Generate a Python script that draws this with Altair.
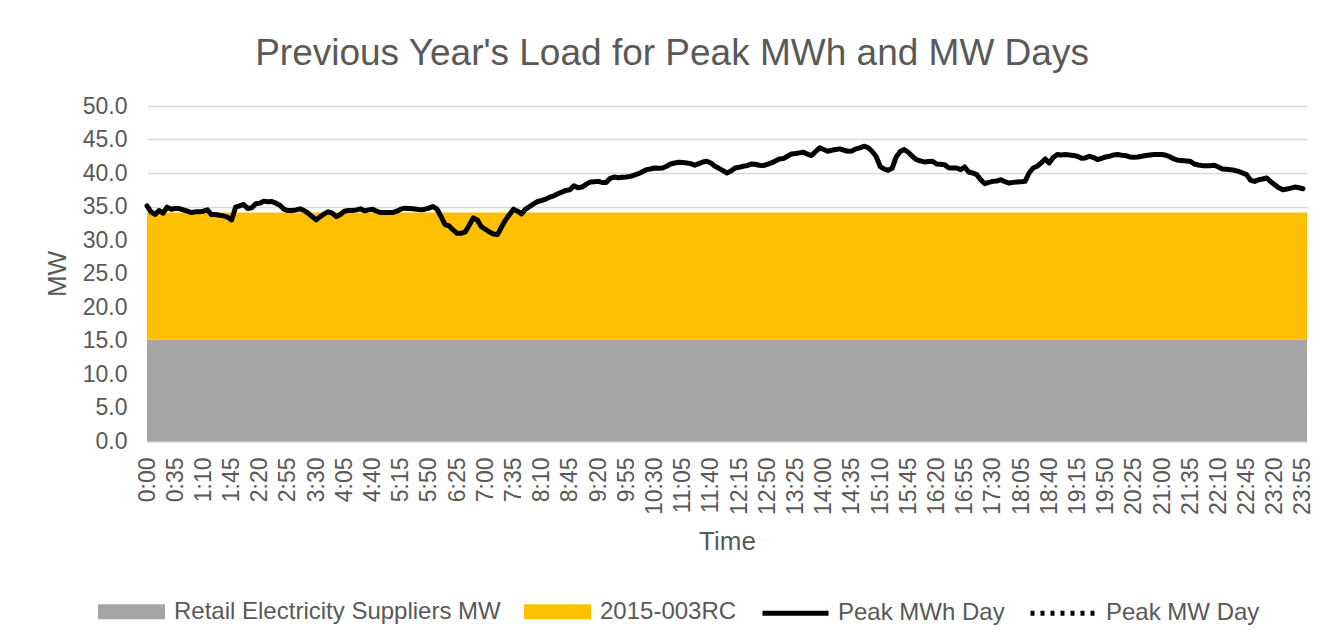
import json
import altair as alt
import pandas as pd

TITLE = "Previous Year's Load for Peak MWh and MW Days"
SERIES = ["Retail Electricity Suppliers MW", "2015-003RC", "Peak MWh Day", "Peak MW Day"]
COLORS = ["#A5A5A5", "#FFC000", "#000000", "#000000"]

TICK_LABELS = ["0:00", "0:35", "1:10", "1:45", "2:20", "2:55", "3:30", "4:05", "4:40",
               "5:15", "5:50", "6:25", "7:00", "7:35", "8:10", "8:45", "9:20", "9:55",
               "10:30", "11:05", "11:40", "12:15", "12:50", "13:25", "14:00", "14:35",
               "15:10", "15:45", "16:20", "16:55", "17:30", "18:05", "18:40", "19:15",
               "19:50", "20:25", "21:00", "21:35", "22:10", "22:45", "23:20", "23:55"]
TICK_STEP = 7  # labels every 7th five-minute interval
Y_TICKS = [0, 5, 10, 15, 20, 25, 30, 35, 40, 45, 50]

RETAIL_MW = 15.1   # Retail Electricity Suppliers MW (constant over the day)
RC_MW = 19.0       # 2015-003RC (stacked on top)

PEAK_MWH = [
    35.1, 34.2, 33.8, 34.4, 34.0, 34.9, 34.6, 34.7, 34.7, 34.5,
    34.3, 34.1, 34.2, 34.2, 34.3, 34.5, 33.8, 33.8, 33.7, 33.6,
    33.4, 33.0, 34.9, 35.1, 35.3, 34.7, 34.8, 35.4, 35.5, 35.8,
    35.7, 35.75, 35.5, 35.2, 34.6, 34.4, 34.4, 34.5, 34.65, 34.4,
    34.0, 33.5, 33.0, 33.5, 33.9, 34.2, 34.0, 33.5, 33.8, 34.3,
    34.4, 34.4, 34.5, 34.65, 34.35, 34.5, 34.6, 34.3, 34.1, 34.1,
    34.1, 34.1, 34.3, 34.6, 34.75, 34.7, 34.65, 34.6, 34.5, 34.6,
    34.75, 35.0, 34.6, 33.5, 32.3, 32.1, 31.5, 31.0, 31.0, 31.2,
    32.2, 33.3, 33.0, 32.0, 31.6, 31.2, 30.9, 30.8, 31.9, 33.0,
    33.8, 34.6, 34.3, 33.9, 34.6, 35.0, 35.4, 35.75, 35.9, 36.1,
    36.4, 36.6, 36.9, 37.15, 37.4, 37.5, 38.1, 37.8, 37.9, 38.3,
    38.65, 38.7, 38.75, 38.6, 38.6, 39.2, 39.4, 39.3, 39.35, 39.4,
    39.5, 39.7, 39.9, 40.2, 40.5, 40.6, 40.75, 40.7, 40.75, 41.0,
    41.35, 41.5, 41.6, 41.55, 41.5, 41.4, 41.15, 41.4, 41.65, 41.75,
    41.5, 41.0, 40.7, 40.35, 40.0, 40.3, 40.75, 40.85, 41.0, 41.1,
    41.35, 41.3, 41.15, 41.1, 41.3, 41.5, 41.8, 42.1, 42.15, 42.5,
    42.85, 42.9, 43.0, 43.1, 42.8, 42.6, 43.2, 43.75, 43.5, 43.25,
    43.4, 43.5, 43.6, 43.4, 43.25, 43.3, 43.6, 43.75, 44.0, 43.8,
    43.25, 42.5, 41.0, 40.6, 40.4, 40.7, 42.4, 43.2, 43.5, 43.1,
    42.5, 42.0, 41.8, 41.65, 41.7, 41.75, 41.35, 41.3, 41.25, 40.8,
    40.75, 40.75, 40.5, 40.9, 40.15, 40.0, 39.75, 39.0, 38.4, 38.6,
    38.75, 38.8, 39.0, 38.7, 38.5, 38.6, 38.65, 38.7, 38.75, 40.0,
    40.75, 41.0, 41.5, 42.1, 41.5, 42.3, 42.75, 42.7, 42.75, 42.7,
    42.6, 42.5, 42.2, 42.25, 42.5, 42.3, 42.0, 42.2, 42.4, 42.5,
    42.7, 42.75, 42.65, 42.6, 42.4, 42.35, 42.4, 42.5, 42.6, 42.7,
    42.75, 42.75, 42.75, 42.65, 42.4, 42.1, 41.9, 41.85, 41.8, 41.75,
    41.35, 41.2, 41.1, 41.1, 41.1, 41.15, 40.9, 40.6, 40.55, 40.5,
    40.4, 40.25, 40.0, 39.75, 38.9, 38.75, 39.0, 39.1, 39.25, 38.7,
    38.25, 37.8, 37.5, 37.6, 37.75, 37.9, 37.8, 37.65,
]

N = len(PEAK_MWH)  # 288 five-minute intervals
FONT = "Liberation Sans"
TEXT = "#595959"

line_df = pd.DataFrame({"idx": list(range(N)), "mw": PEAK_MWH})
area_df = pd.DataFrame({"idx": list(range(N + 1)),
                        "retail": [RETAIL_MW] * (N + 1),
                        "total": [RETAIL_MW + RC_MW] * (N + 1)})

label_expr = json.dumps(TICK_LABELS) + "[round(datum.value / %d)]" % TICK_STEP

x_scale = alt.Scale(domain=[0, N], nice=False, zero=False)
y_scale = alt.Scale(domain=[0, 50], nice=False)

x_axis = alt.Axis(values=[i * TICK_STEP for i in range(len(TICK_LABELS))],
                  labelExpr=label_expr, labelAngle=270, labelFontSize=23,
                  labelColor=TEXT, labelFont=FONT, labelPadding=16,
                  ticks=False, tickSize=0, grid=False,
                  domainColor="#BFBFBF", domainWidth=1.5,
                  titleFontSize=26, titleFont=FONT, titleColor=TEXT,
                  titleFontWeight="normal", titlePadding=14, labelOverlap=False)
y_axis = alt.Axis(values=Y_TICKS, format=".1f", labelFontSize=23, labelColor=TEXT,
                  labelFont=FONT, labelPadding=20, ticks=False, domain=False,
                  grid=True, gridColor="#D9D9D9", gridWidth=1.5,
                  titleFontSize=26, titleFont=FONT, titleColor=TEXT,
                  titleFontWeight="normal", titlePadding=12)

X = alt.X("idx:Q", scale=x_scale, axis=x_axis, title="Time")
Y_T = "MW"

gray = alt.Chart(area_df).mark_area(color="#A5A5A5").encode(
    x=X, y=alt.Y("retail:Q", scale=y_scale, axis=y_axis, title=Y_T))
yellow = alt.Chart(area_df).mark_area(color="#FFC000").encode(
    x=X, y=alt.Y("total:Q", scale=y_scale, axis=y_axis, title=Y_T), y2="retail:Q")
line = alt.Chart(line_df).mark_line(color="#000000", strokeWidth=5,
                                    strokeJoin="round", strokeCap="round").encode(
    x=X, y=alt.Y("mw:Q", scale=y_scale, axis=y_axis, title=Y_T))

SHAPES = ["M-0.94,-0.15H0.94V0.15H-0.94Z", "M-0.94,-0.15H0.94V0.15H-0.94Z",
          "M-1,0H1", "M-1,0H1"]
DASHES = [[10, 0], [10, 0], [10, 0], [4, 6]]
leg = alt.Legend(orient="none", legendX=-51, legendY=470, direction="horizontal",
                 columns=4, title=None, labelFontSize=24, labelColor=TEXT,
                 labelFont=FONT, symbolSize=4356, symbolStrokeWidth=5,
                 symbolOpacity=1, labelOffset=7, columnPadding=15, labelLimit=500)

legend_layer = alt.Chart(pd.DataFrame({"series": SERIES})).transform_filter(
    "false").mark_point(filled=True, strokeWidth=5, opacity=1).encode(
    fill=alt.Fill("series:N", scale=alt.Scale(domain=SERIES, range=COLORS), legend=leg),
    stroke=alt.Stroke("series:N", scale=alt.Scale(domain=SERIES, range=COLORS), legend=leg),
    shape=alt.Shape("series:N", scale=alt.Scale(domain=SERIES, range=SHAPES), legend=leg),
    strokeDash=alt.StrokeDash("series:N", scale=alt.Scale(domain=SERIES, range=DASHES), legend=leg),
)

chart = alt.layer(gray, yellow, line, legend_layer).properties(
    width=1160, height=335,
    title=alt.Title(TITLE, fontSize=37, font=FONT, color=TEXT, fontWeight="normal",
                    anchor="middle", offset=22, dx=-55),
    autosize=alt.AutoSizeParams(type="none"),
    padding={"left": 139, "top": 98, "right": 16, "bottom": 190},
    background="white",
).configure_view(stroke=None)

chart.save("out.html", embed_options={"renderer": "svg", "actions": False})
